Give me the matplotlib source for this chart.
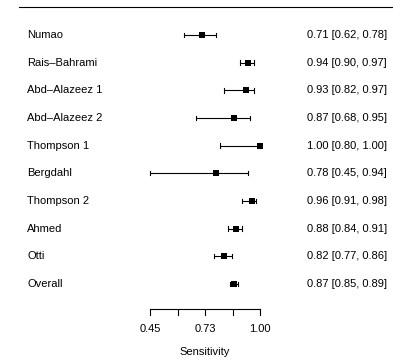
import matplotlib
matplotlib.use("Agg")
import matplotlib.pyplot as plt

plt.rcParams['font.family'] = ['Liberation Sans', 'DejaVu Sans']

studies = ["Numao", "Rais\u2013Bahrami", "Abd\u2013Alazeez 1", "Abd\u2013Alazeez 2",
           "Thompson 1", "Bergdahl", "Thompson 2", "Ahmed", "Otti", "Overall"]
est = [0.71, 0.94, 0.93, 0.87, 1.00, 0.78, 0.96, 0.88, 0.82, 0.87]
lo = [0.62, 0.90, 0.82, 0.68, 0.80, 0.45, 0.91, 0.84, 0.77, 0.85]
hi = [0.78, 0.97, 0.97, 0.95, 1.00, 0.94, 0.98, 0.91, 0.86, 0.89]
ticks = [0.45, 0.5875, 0.725, 0.8625, 1.00]
tick_labels = ["0.45", "", "0.73", "", "1.00"]
xlabel = "Sensitivity"

fig = plt.figure(figsize=(3.93, 3.59), dpi=100)
ax = fig.add_axes([0, 0, 1, 1])
ax.set_xlim(-0.3, 1.665)
ax.set_ylim(11.718, -1.266)
ax.axis('off')

fs = 8
cap = 0.08
for i, (n, e, l, h) in enumerate(zip(studies, est, lo, hi)):
    ax.plot([l, h], [i, i], color='black', lw=0.8, solid_capstyle='butt')
    ax.plot([l, l], [i - cap, i + cap], color='black', lw=0.8)
    ax.plot([h, h], [i - cap, i + cap], color='black', lw=0.8)
    ax.plot([e], [i], marker='s', color='black', markersize=3.8, markeredgewidth=0)
    ax.text(-0.165, i, n, ha='left', va='center', fontsize=fs)
    ax.text(1.235, i, f"{e:.2f} [{l:.2f}, {h:.2f}]", ha='left', va='center', fontsize=fs)

# top line
ax.plot([-0.205, 1.66], [-1.0, -1.0], color='black', lw=0.8)

# x axis
ax_y = 9.92
ax.plot([ticks[0], ticks[-1]], [ax_y, ax_y], color='black', lw=0.8)
for t, lab in zip(ticks, tick_labels):
    ax.plot([t, t], [ax_y, ax_y + 0.21], color='black', lw=0.8)
    if lab:
        ax.text(t, 10.64, lab, ha='center', va='center', fontsize=fs)
ax.text(0.725, 11.45, xlabel, ha='center', va='center', fontsize=fs)

fig.savefig("out.png", dpi=100)
